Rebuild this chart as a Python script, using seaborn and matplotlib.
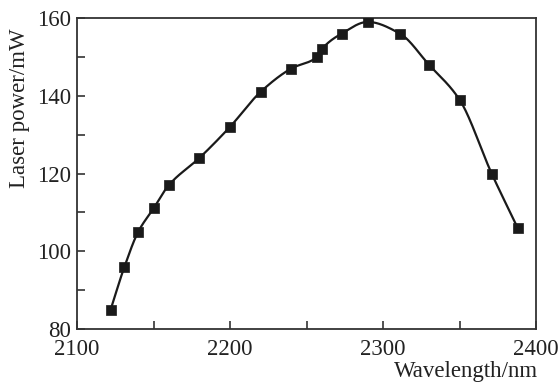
import numpy as np
import pandas as pd
import matplotlib
matplotlib.use("Agg")
import matplotlib.pyplot as plt
import seaborn as sns
from matplotlib.ticker import MultipleLocator

wavelength = [2122, 2131, 2140, 2150, 2160, 2180, 2200, 2220, 2240, 2257, 2260, 2273, 2290, 2311, 2330, 2350, 2371, 2388]
power = [85, 96, 105, 111, 117, 124, 132, 141, 147, 150, 152, 156, 159, 156, 148, 139, 120, 106]

x_label = "Wavelength/nm"
y_label = "Laser power/mW"
x_ticks = [2100, 2200, 2300, 2400]
y_ticks = [80, 100, 120, 140, 160]

sns.set_theme(style="ticks")
plt.rcParams["font.family"] = ["Liberation Serif", "DejaVu Serif"]

FS = 16.5
INK = "#1a1a1a"


def pchip(x, y, n=800):
    x = np.asarray(x, float)
    y = np.asarray(y, float)
    h = np.diff(x)
    delta = np.diff(y) / h
    k = len(x)
    d = np.zeros(k)
    for i in range(1, k - 1):
        if delta[i - 1] * delta[i] <= 0:
            d[i] = 0.0
        else:
            w1 = 2 * h[i] + h[i - 1]
            w2 = h[i] + 2 * h[i - 1]
            d[i] = (w1 + w2) / (w1 / delta[i - 1] + w2 / delta[i])
    d[0] = delta[0]
    d[-1] = delta[-1]
    xs = np.linspace(x[0], x[-1], n)
    idx = np.clip(np.searchsorted(x, xs) - 1, 0, k - 2)
    t = (xs - x[idx]) / h[idx]
    h00 = 2 * t ** 3 - 3 * t ** 2 + 1
    h10 = t ** 3 - 2 * t ** 2 + t
    h01 = -2 * t ** 3 + 3 * t ** 2
    h11 = t ** 3 - t ** 2
    ys = h00 * y[idx] + h10 * h[idx] * d[idx] + h01 * y[idx + 1] + h11 * h[idx] * d[idx + 1]
    return xs, ys


df = pd.DataFrame({"wavelength": wavelength, "power": power})
xs, ys = pchip(wavelength, power)
curve = pd.DataFrame({"wavelength": xs, "power": ys})

fig = plt.figure(figsize=(5.58, 3.85), dpi=100)
ax = fig.add_axes([0.138, 0.1455, 0.8226, 0.8077])

sns.lineplot(data=curve, x="wavelength", y="power", ax=ax, color=INK, linewidth=1.6, sort=False)
sns.scatterplot(data=df, x="wavelength", y="power", ax=ax, marker="s", s=42, color=INK,
                edgecolor=INK, linewidth=0.5, zorder=3)

ax.set_xlim(2100, 2400)
ax.set_ylim(80, 160)
ax.set_xticks(x_ticks)
ax.set_yticks(y_ticks)
ax.xaxis.set_minor_locator(MultipleLocator(50))
ax.yaxis.set_minor_locator(MultipleLocator(10))
ax.tick_params(axis="both", which="both", direction="in", length=6, width=1.2, color="#333333",
               top=False, right=False, labelsize=FS, labelcolor="#222222")
ax.tick_params(axis="x", pad=7.5)
ax.tick_params(axis="y", pad=4)

for s in ax.spines.values():
    s.set_visible(True)
    s.set_linewidth(1.3)
    s.set_color("#333333")

ax.set_xlabel("")
ax.set_ylabel("")
fig.text(538 / 558, 1 - 372 / 385, x_label, fontsize=FS, color="#222222", ha="right", va="center")
fig.text(9 / 558, 1 - 28 / 385, y_label, fontsize=FS, color="#222222", ha="left", va="top",
         rotation=90)

fig.savefig("out.png", dpi=100)
